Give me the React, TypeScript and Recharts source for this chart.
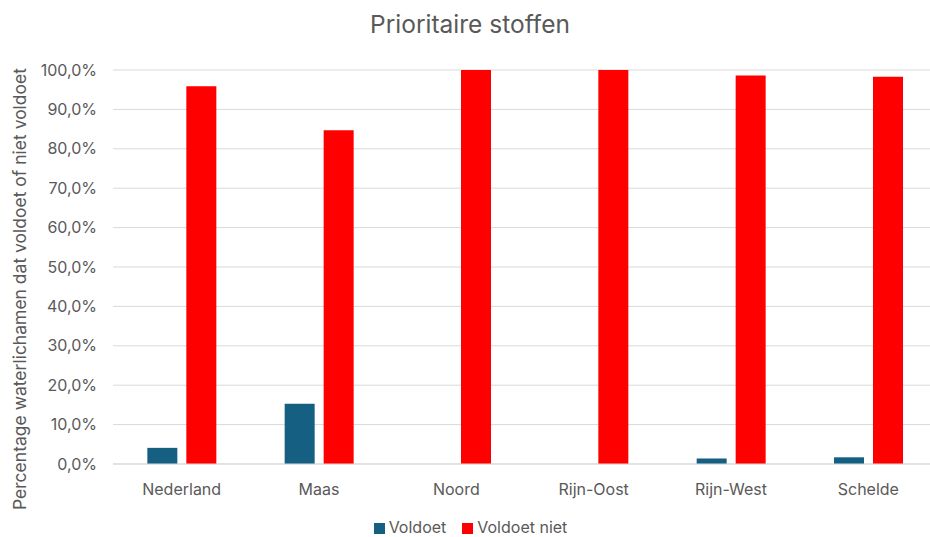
import React from 'react';
import {
  BarChart,
  Bar,
  XAxis,
  YAxis,
  CartesianGrid,
  Legend,
} from 'recharts';

const REGIONS = ['Nederland', 'Maas', 'Noord', 'Rijn-Oost', 'Rijn-West', 'Schelde'];
const VOLDOET = [4.1, 15.3, 0, 0, 1.4, 1.7];
const VOLDOET_NIET = [95.9, 84.7, 100, 100, 98.6, 98.3];
const Y_TICKS = [0, 10, 20, 30, 40, 50, 60, 70, 80, 90, 100];

const FONT = 'Inter, "Noto Sans", sans-serif';
const TEXT = '#595959';

const data = REGIONS.map((name, i) => ({
  name,
  voldoet: VOLDOET[i],
  voldoetNiet: VOLDOET_NIET[i],
}));

const pct = (v: number) => `${v.toFixed(1).replace('.', ',')}%`;

export default function App() {
  return (
    <div
      style={{
        position: 'absolute',
        left: 0,
        top: 0,
        width: 930,
        height: 537,
        overflow: 'hidden',
        background: '#fff',
        fontFamily: FONT,
      }}
    >
      <div
        style={{
          position: 'absolute',
          top: 9,
          left: 0,
          width: 940,
          textAlign: 'center',
          fontSize: 24.5,
          color: TEXT,
        }}
      >
        Prioritaire stoffen
      </div>
      <BarChart
        width={937}
        height={537}
        data={data}
        margin={{ top: 70, right: 0, left: 0, bottom: 0 }}
        barCategoryGap="25%"
        barGap={9}
      >
        <CartesianGrid vertical={false} stroke="#d9d9d9" />
        <XAxis
          dataKey="name"
          height={55}
          tickLine={false}
          axisLine={{ stroke: '#d9d9d9' }}
          tick={{ fill: TEXT, fontSize: 16, fontFamily: FONT }}
          tickMargin={14}
        />
        <YAxis
          width={113}
          domain={[0, 100]}
          ticks={Y_TICKS}
          tickFormatter={pct}
          tickLine={false}
          axisLine={false}
          tick={{ fill: TEXT, fontSize: 16, fontFamily: FONT }}
          tickMargin={10}
          label={{
            value: 'Percentage waterlichamen dat voldoet of niet voldoet',
            angle: -90,
            position: 'insideLeft',
            offset: 20,
            dy: 22,
            style: { textAnchor: 'middle', fill: TEXT, fontSize: 17.5, fontFamily: FONT },
          }}
        />
        <Legend
          verticalAlign="bottom"
          iconType="square"
          iconSize={11}
          wrapperStyle={{
            fontSize: 16,
            lineHeight: '18px',
            fontFamily: FONT,
            paddingLeft: 10,
            height: 18,
            bottom: 1,
          }}
          formatter={(value) => (
            <span style={{ color: TEXT, marginRight: 6 }}>{value}</span>
          )}
        />
        <Bar dataKey="voldoet" name="Voldoet" fill="#156082" isAnimationActive={false} />
        <Bar dataKey="voldoetNiet" name="Voldoet niet" fill="#ff0000" isAnimationActive={false} />
      </BarChart>
    </div>
  );
}
